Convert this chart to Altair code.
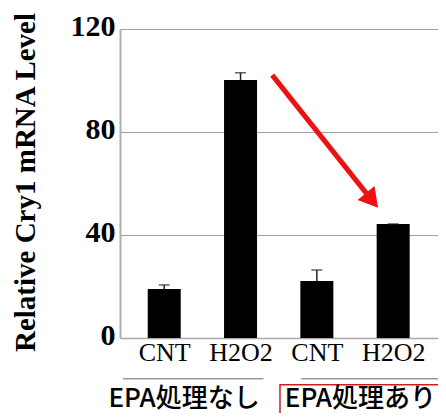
import altair as alt
import pandas as pd

# --- data ---
labels = ["CNT", "H2O2", "CNT", "H2O2"]
positions = [1, 2, 3, 4]
values = [19.0, 100.2, 22.1, 44.3]
errors = [1.6, 2.8, 4.3, 0.0]

arrow_x = [2.415, 3.697]
arrow_y = [102.1, 54.4]

group_names = ["EPA処理なし", "EPA処理あり"]
group_line_start = [0.46, 2.796]
group_line_end = [2.30, 4.62]
group_line_y = -15.8
group_label_x = [0.27, 2.58]
group_label_y = -23.8
box_x = [2.517, 4.8]
box_y = [-18.2, -45.0]

df = pd.DataFrame({"pos": positions, "label": labels, "value": values, "err": errors})
df["top"] = df["value"] + df["err"]

xscale = alt.Scale(domain=[0.486, 4.522], nice=False, zero=False)
yscale = alt.Scale(domain=[0, 120], nice=False)

label_expr = "datum.value == 1 || datum.value == 3 ? 'CNT' : 'H2O2'"

xaxis = alt.Axis(values=positions, labelExpr=label_expr, grid=False, ticks=False,
                 labelFont="Liberation Serif", labelFontSize=26, labelColor="black",
                 labelPadding=1, title=None, domainColor="#a8a8a8", domainWidth=1.5)
yaxis = alt.Axis(values=[0, 40, 80, 120], grid=True, ticks=False,
                 labelFont="Liberation Serif", labelFontSize=30, labelFontWeight="bold",
                 labelColor="black", labelPadding=5, labelOffset=-3,
                 title="Relative  Cry1 mRNA Level", titleFont="Liberation Serif",
                 titleFontSize=29, titleFontWeight="bold", titleColor="black",
                 titleAngle=-90, titleX=-95, titleY=153, titleAlign="center",
                 titleBaseline="middle", domainColor="#b0b0b0", domainWidth=2,
                 gridColor="#a0a0a0", gridWidth=1)

bars = alt.Chart(df).mark_bar(size=33, color="black").encode(
    x=alt.X("pos:Q", scale=xscale, axis=xaxis),
    y=alt.Y("value:Q", scale=yscale, axis=yaxis),
)

err_rule = alt.Chart(df).mark_rule(color="#222222", strokeWidth=1.5).encode(
    x="pos:Q", y="value:Q", y2="top:Q"
)
err_cap = alt.Chart(df).mark_tick(color="#222222", thickness=1.5, size=11, orient="horizontal").encode(
    x="pos:Q", y="top:Q"
)

arrow_df = pd.DataFrame({"x": [arrow_x[0]], "y": [arrow_y[0]], "x2": [arrow_x[1]], "y2": [arrow_y[1]]})
arrow_line = alt.Chart(arrow_df).mark_rule(color="#ee1111", strokeWidth=5).encode(
    x="x:Q", y="y:Q", x2="x2:Q", y2="y2:Q"
)
head_df = pd.DataFrame({"x": [arrow_x[1]], "y": [arrow_y[1]]})
arrow_head = alt.Chart(head_df).mark_point(shape="triangle", filled=True, color="#ee1111",
                                           size=480, angle=140.6, opacity=1).encode(
    x="x:Q", y="y:Q"
)

gl_df = pd.DataFrame({"x": group_line_start, "x2": group_line_end, "y": [group_line_y] * 2})
group_lines = alt.Chart(gl_df).mark_rule(color="#9a9a9a", strokeWidth=1.5, clip=False).encode(
    x="x:Q", x2="x2:Q", y="y:Q"
)

box_df = pd.DataFrame({"x": [box_x[0]], "x2": [box_x[1]], "y": [box_y[0]], "y2": [box_y[1]]})
box = alt.Chart(box_df).mark_rect(fill=None, stroke="#cc1f1f", strokeWidth=1.5, clip=False).encode(
    x="x:Q", x2="x2:Q", y="y:Q", y2="y2:Q"
)

gt_df = pd.DataFrame({"x": group_label_x, "y": [group_label_y] * 2, "t": group_names})
group_text = alt.Chart(gt_df).mark_text(font="Noto Sans CJK JP", fontSize=26, fontWeight=500,
                                        align="left", baseline="middle", color="black", clip=False).encode(
    x="x:Q", y="y:Q", text="t:N"
)

chart = alt.layer(bars, err_rule, err_cap, arrow_line, arrow_head, group_lines, box, group_text).properties(
    width=318, height=309,
    autosize=alt.AutoSizeParams(type="none"),
    padding={"left": 112, "top": 21, "right": 0, "bottom": 75},
).configure_view(stroke=None).configure(background="white")

chart.save("out.html", embed_options={"renderer": "svg", "actions": False})
